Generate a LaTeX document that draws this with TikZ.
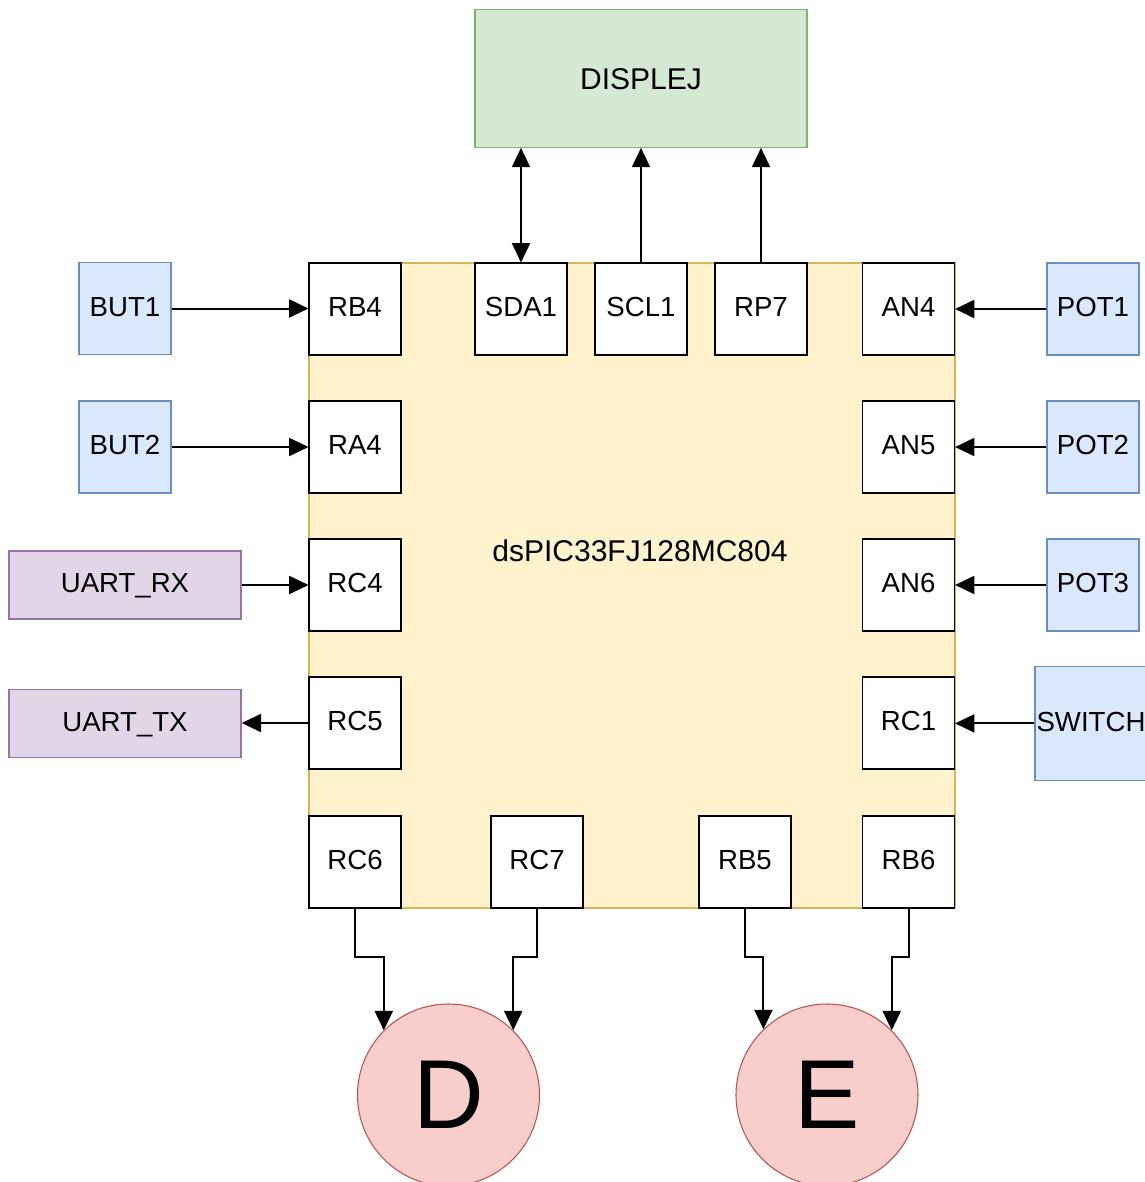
\documentclass[tikz,border=0pt]{standalone}
\usepackage{fontspec}
\setmainfont{Liberation Sans}
\usetikzlibrary{arrows.meta}
\definecolor{gfill}{HTML}{D5E8D4}\definecolor{gdraw}{HTML}{82B366}
\definecolor{bfill}{HTML}{DAE8FC}\definecolor{bdraw}{HTML}{6C8EBF}
\definecolor{pfill}{HTML}{E1D5E7}\definecolor{pdraw}{HTML}{9673A6}
\definecolor{yfill}{HTML}{FFF2CC}\definecolor{ydraw}{HTML}{D6B656}
\definecolor{rfill}{HTML}{F8CECC}\definecolor{rdraw}{HTML}{B85450}
\begin{document}
\begin{tikzpicture}[x=0.75pt,y=-0.75pt,
  box/.style={draw, rectangle, inner sep=0pt, line width=0.8pt, font=\fontsize{20.7}{24}\selectfont, text height=15.3pt, text depth=3.5pt},
  pin/.style={box, fill=white, draw=black, minimum width=69pt, minimum height=69pt},
  inbox/.style={box, fill=bfill, draw=bdraw, minimum width=69pt, minimum height=69pt},
  uartbox/.style={box, fill=pfill, draw=pdraw, line width=1.1pt, minimum width=174pt, minimum height=51pt},
  ball/.style={circle, draw=rdraw, fill=rfill, line width=0.8pt, minimum size=136.5pt, inner sep=0pt, font=\fontsize{73.5}{80}\selectfont},
  edge/.style={line width=1.5pt, -{Triangle[length=14.5pt,width=13.5pt]}},
  biedge/.style={line width=1.5pt, {Triangle[length=14.5pt,width=13.5pt]}-{Triangle[length=14.5pt,width=13.5pt]}}
]
\clip (0,0) rectangle (1145,1182);
\fill[white] (0,0) rectangle (1145,1182);
% main chip
\node[draw=ydraw, fill=yfill, line width=1.1pt, rectangle, inner sep=0pt, minimum width=484.5pt, minimum height=483.75pt] (chip) at (632,585.5) {};
\node[font=\fontsize{22.5}{26}\selectfont] (lbl) at (640,551) {dsPIC33FJ128MC804};
% display
\node[box, fill=gfill, draw=gdraw, minimum width=249pt, minimum height=103.5pt, font=\fontsize{22.5}{26}\selectfont, text height=16.1pt, text depth=0pt] (disp) at (641,78.3) {DISPLEJ};
% pins left
\node[pin] (rb4) at (355,309) {RB4};
\node[pin] (ra4) at (355,447) {RA4};
\node[pin] (rc4) at (355,585) {RC4};
\node[pin] (rc5) at (355,723) {RC5};
\node[pin] (rc6) at (355,862) {RC6};
% pins top
\node[pin] (sda) at (521,309) {SDA1};
\node[pin] (scl) at (641,309) {SCL1};
\node[pin] (rp7) at (761,309) {RP7};
% pins right
\node[pin] (an4) at (908.5,309) {AN4};
\node[pin] (an5) at (908.5,447) {AN5};
\node[pin] (an6) at (908.5,585) {AN6};
\node[pin] (rc1) at (908.5,723) {RC1};
\node[pin] (rb6) at (908.5,862) {RB6};
% pins bottom
\node[pin] (rc7) at (537,862) {RC7};
\node[pin] (rb5) at (745,862) {RB5};
% external left
\node[inbox] (but1) at (125,308.5) {BUT1};
\node[inbox] (but2) at (125,447) {BUT2};
\node[uartbox] (urx) at (125,585) {UART\_RX};
\node[uartbox] (utx) at (125,723.5) {UART\_TX};
% external right
\node[inbox] (pot1) at (1093,309) {POT1};
\node[inbox] (pot2) at (1093,447) {POT2};
\node[inbox] (pot3) at (1093,585) {POT3};
\node[box, fill=bfill, draw=bdraw, minimum width=84pt, minimum height=86pt] (sw) at (1091,723.4) {SWITCH};
% circles
\node[ball] (D) at (448.5,1095) {D};
\node[ball] (E) at (827,1095) {E};
% edges left
\draw[edge] (but1.east) -- (but1.east -| rb4.west);
\draw[edge] (but2.east) -- (but2.east -| ra4.west);
\draw[edge] (urx.east) -- (urx.east -| rc4.west);
\draw[edge] (rc5.west) -- (rc5.west -| utx.east);
% edges right
\draw[edge] (pot1.west) -- (pot1.west -| an4.east);
\draw[edge] (pot2.west) -- (pot2.west -| an5.east);
\draw[edge] (pot3.west) -- (pot3.west -| an6.east);
\draw[edge] (sw.west) -- (sw.west -| rc1.east);
% edges top
\draw[biedge] (sda.north) -- (sda.north |- disp.south);
\draw[edge] (scl.north) -- (scl.north |- disp.south);
\draw[edge] (rp7.north) -- (rp7.north |- disp.south);
% edges bottom
\draw[edge] (rc6.south) -- ++(0,48) -| (D.135.6);
\draw[edge] (rc7.south) -- ++(0,48) -| (D.45.3);
\draw[edge] (rb5.south) -- ++(0,48) -| (E.134.7);
\draw[edge] (rb6.south) -- ++(0,48) -| (E.45.3);
\end{tikzpicture}
\end{document}
